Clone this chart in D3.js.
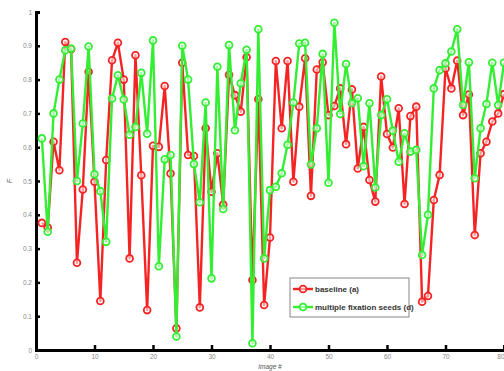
<!DOCTYPE html>
<html>
<head>
<meta charset="utf-8">
<script src="https://cdn.jsdelivr.net/npm/d3@7"></script>
<style>
  body { margin: 0; background: #fff; }
  svg { display: block; }
</style>
</head>
<body>
<div id="chart"></div>
<script>
// image index 1..80
var imageIdx = d3.range(1, 81);

var baselineF = [0.376, 0.362, 0.616, 0.532, 0.911, 0.890, 0.258, 0.475, 0.823, 0.498,
                 0.145, 0.562, 0.857, 0.909, 0.800, 0.271, 0.872, 0.517, 0.118, 0.604,
                 0.601, 0.781, 0.522, 0.064, 0.850, 0.577, 0.574, 0.126, 0.656, 0.468,
                 0.582, 0.430, 0.814, 0.754, 0.705, 0.866, 0.207, 0.742, 0.133, 0.333,
                 0.855, 0.656, 0.855, 0.498, 0.720, 0.863, 0.456, 0.830, 0.851, 0.695,
                 0.722, 0.774, 0.609, 0.771, 0.537, 0.660, 0.503, 0.439, 0.809, 0.639,
                 0.599, 0.715, 0.432, 0.692, 0.720, 0.143, 0.160, 0.444, 0.518, 0.833,
                 0.774, 0.856, 0.695, 0.756, 0.340, 0.582, 0.616, 0.676, 0.700, 0.757];

var fixationF = [0.626, 0.350, 0.700, 0.800, 0.887, 0.892, 0.500, 0.670, 0.898, 0.520,
                 0.470, 0.320, 0.744, 0.813, 0.741, 0.637, 0.660, 0.820, 0.640, 0.916,
                 0.248, 0.564, 0.577, 0.040, 0.900, 0.800, 0.550, 0.437, 0.732, 0.212,
                 0.838, 0.417, 0.902, 0.650, 0.789, 0.888, 0.020, 0.949, 0.271, 0.473,
                 0.483, 0.523, 0.607, 0.732, 0.907, 0.909, 0.549, 0.656, 0.876, 0.495,
                 0.968, 0.698, 0.846, 0.730, 0.745, 0.544, 0.730, 0.481, 0.695, 0.742,
                 0.649, 0.557, 0.641, 0.587, 0.592, 0.281, 0.400, 0.774, 0.828, 0.848,
                 0.883, 0.949, 0.725, 0.851, 0.508, 0.656, 0.728, 0.850, 0.725, 0.850];

var seriesNames = ["baseline (a)", "multiple fixation seeds (d)"];
var seriesColors = ["#f52424", "#33ee33"];

var xTicks = d3.range(0, 81, 10);
var yTicks = d3.range(0, 1.01, 0.1);

var W = 504, H = 371;
var margin = {top: 12, right: 0, bottom: 21, left: 36};

var svg = d3.select("#chart").append("svg")
    .attr("width", W)
    .attr("height", H);

var xScale = d3.scaleLinear().domain([0, 80]).range([margin.left, W - margin.right]);
var yScale = d3.scaleLinear().domain([0, 1]).range([H - margin.bottom, margin.top]);

// ###########################
// AXES
var xAxis = svg.append("g")
    .attr("transform", `translate(0,${yScale(0)})`)
    .call(d3.axisBottom(xScale).tickValues(xTicks).tickSize(-5).tickPadding(4).tickFormat(d3.format("d")));

var yAxis = svg.append("g")
    .attr("transform", `translate(${xScale(0)},0)`)
    .call(d3.axisLeft(yScale).tickValues(yTicks).tickSize(-4).tickPadding(4)
      .tickFormat(d => (d === 0 || d > 0.99) ? d3.format("d")(d) : d3.format(".1f")(d)));

[xAxis, yAxis].forEach(function(ax) {
  ax.select(".domain").attr("stroke", "#000").attr("stroke-width", 3);
  ax.selectAll(".tick line").attr("stroke", "#000").attr("stroke-width", 2.5);
  ax.selectAll(".tick text")
    .style("font-family", "Liberation Sans, Arial, sans-serif")
    .style("font-size", "6.5px")
    .attr("fill", "#888");
});
// last x tick label sits at the right edge
xAxis.selectAll(".tick text").filter(d => d === 80).attr("text-anchor", "end");

svg.append("text")
    .attr("x", xScale(40))
    .attr("y", H - 2)
    .attr("text-anchor", "middle")
    .style("font-family", "Liberation Sans, Arial, sans-serif")
    .style("font-size", "6.5px")
    .style("font-style", "italic")
    .attr("fill", "#555")
    .text("Image #");

svg.append("text")
    .attr("transform", `translate(12,${yScale(0.5)}) rotate(-90)`)
    .attr("text-anchor", "middle")
    .style("font-family", "Liberation Sans, Arial, sans-serif")
    .style("font-size", "7px")
    .style("font-style", "italic")
    .attr("fill", "#555")
    .text("F");

// ###########################
// LINES + MARKERS
var seriesData = [baselineF, fixationF].map(function(vals, k) {
  return {name: seriesNames[k], c: seriesColors[k],
          pts: vals.map((v, i) => ({x: imageIdx[i], y: v}))};
});

var line = d3.line()
    .x(d => xScale(d.x))
    .y(d => yScale(d.y));

var plotG = svg.append("g");

seriesData.forEach(function(s) {
  var g = plotG.append("g");
  g.append("path")
    .attr("d", line(s.pts))
    .attr("fill", "none")
    .attr("stroke", s.c)
    .attr("stroke-width", 2.4)
    .attr("stroke-linejoin", "round");
  g.selectAll("circle")
    .data(s.pts)
    .join("circle")
    .attr("cx", d => xScale(d.x))
    .attr("cy", d => yScale(d.y))
    .attr("r", 3.4)
    .attr("fill", "#fff")
    .attr("fill-opacity", 0.55)
    .attr("stroke", s.c)
    .attr("stroke-width", 1.8);
});

// ###########################
// LEGEND
var legendG = svg.append("g").attr("transform", "translate(290,278)");
legendG.append("rect")
    .attr("width", 119)
    .attr("height", 39)
    .attr("fill", "#fff")
    .attr("stroke", "#888")
    .attr("stroke-width", 1);

seriesData.forEach(function(s, i) {
  var ly = 11 + i * 18;
  legendG.append("line")
    .attr("x1", 3).attr("x2", 23)
    .attr("y1", ly).attr("y2", ly)
    .attr("stroke", s.c).attr("stroke-width", 2.4);
  legendG.append("circle")
    .attr("cx", 13).attr("cy", ly).attr("r", 3.4)
    .attr("fill", "#fff").attr("fill-opacity", 0.55)
    .attr("stroke", s.c).attr("stroke-width", 1.8);
  legendG.append("text")
    .attr("x", 25)
    .attr("y", ly + 3)
    .style("font-family", "Liberation Sans, Arial, sans-serif")
    .style("font-size", "8px")
    .style("font-weight", "bold")
    .attr("fill", "#333")
    .text(s.name);
});
</script>
</body>
</html>
